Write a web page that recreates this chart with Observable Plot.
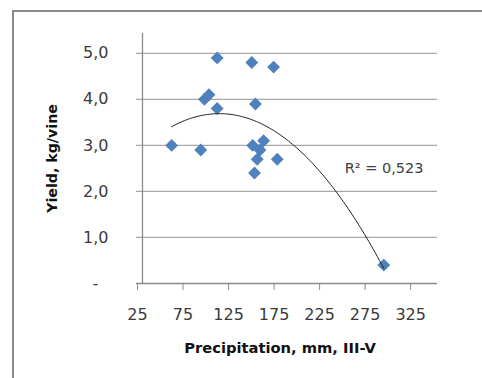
<!DOCTYPE html>
<html>
<head>
<meta charset="utf-8">
<script src="https://cdn.jsdelivr.net/npm/d3@7"></script>
<script src="https://cdn.jsdelivr.net/npm/@observablehq/plot@0.6"></script>
<style>
  html, body { margin: 0; padding: 0; width: 482px; height: 378px; overflow: hidden; background: #fff; }
  #frame { position: absolute; left: 12px; top: 10px; width: 700px; height: 700px; border: 2px solid #8a8a8a; box-sizing: border-box; }
  #chart { position: absolute; left: 0; top: 0; }
</style>
</head>
<body>
<div id="frame"></div>
<div id="chart"></div>
<script>
// Data
const precipitation = [57, 89, 93, 98, 107, 107, 145, 169, 149, 146, 158, 154, 151, 173, 148, 290];
const yieldKg       = [3.0, 2.9, 4.0, 4.1, 4.9, 3.8, 4.8, 4.7, 3.9, 3.0, 3.1, 2.9, 2.7, 2.7, 2.4, 0.4];
const xTicks = [25, 75, 125, 175, 225, 275, 325];
const yTicks = [0, 1, 2, 3, 4, 5];
const r2Label = "R² = 0,523";

const points = precipitation.map((x, i) => ({x, y: yieldKg[i]}));

// Quadratic least-squares trendline (as Excel's order-2 polynomial)
function polyfit2(xs, ys) {
  const S = k => d3.sum(xs, x => x ** k);
  const T = k => d3.sum(xs.map((x, i) => x ** k * ys[i]));
  const A = [[S(4), S(3), S(2)], [S(3), S(2), S(1)], [S(2), S(1), xs.length]];
  const B = [T(2), T(1), T(0)];
  const det = m => m[0][0]*(m[1][1]*m[2][2]-m[1][2]*m[2][1]) - m[0][1]*(m[1][0]*m[2][2]-m[1][2]*m[2][0]) + m[0][2]*(m[1][0]*m[2][1]-m[1][1]*m[2][0]);
  const D = det(A);
  return [0, 1, 2].map(c => det(A.map((row, r) => row.map((v, j) => j === c ? B[r] : v))) / D);
}
const [qa, qb, qc] = polyfit2(precipitation, yieldKg);
const [xmin, xmax] = d3.extent(precipitation);
const trend = d3.range(0, 101).map(i => {
  const x = xmin + (xmax - xmin) * i / 100;
  return {x, y: qa * x * x + qb * x + qc};
});

const fmtY = d => d === 0 ? "-\u2007" : d3.format(".1f")(d).replace(".", ",");

const chart = Plot.plot({
  width: 482,
  height: 378,
  marginLeft: 142,
  marginRight: 45,
  marginTop: 33,
  marginBottom: 95,
  style: {fontFamily: "'DejaVu Sans', sans-serif", fontSize: "16px", background: "transparent", overflow: "visible"},
  x: {domain: [25, 349]},
  y: {domain: [0, 5.43]},
  marks: [
    Plot.ruleY(yTicks.filter(d => d > 0), {stroke: "#a8a8a8", strokeWidth: 1.3, insetLeft: -6}),
    Plot.ruleY([0], {stroke: "#8a8a8a", strokeWidth: 1.3, insetLeft: -6}),
    Plot.ruleX([25], {stroke: "#8a8a8a", strokeWidth: 1.3}),
    Plot.axisY({ticks: yTicks, tickSize: 0, tickPadding: 34, tickFormat: fmtY, fill: "#3a3a3a", fontSize: 16, label: null}),
    Plot.axisX({ticks: xTicks, tickSize: 7, tickPadding: 18, stroke: "#8a8a8a", fill: "#3a3a3a", fontSize: 16, dx: -5, label: null}),
    Plot.text(["Yield, kg/vine"], {frameAnchor: "left", dx: -90, rotate: -90, textAnchor: "middle", lineAnchor: "middle", fontWeight: "bold", fontSize: 14.2, fill: "#111"}),
    Plot.text(["Precipitation, mm, III-V"], {frameAnchor: "bottom", dy: 65, dx: -10, textAnchor: "middle", lineAnchor: "middle", fontWeight: "bold", fontSize: 14.7, fill: "#111"}),
    Plot.dot(points, {x: "x", y: "y", symbol: "diamond2", r: 5.8, fill: "#4f81bd", stroke: "none"}),
    Plot.line(trend, {x: "x", y: "y", stroke: "#222", strokeWidth: 1, curve: "linear"}),
    Plot.text([r2Label], {frameAnchor: "top-right", dx: -14, dy: 135, textAnchor: "end", lineAnchor: "middle", fontSize: 14.5, fill: "#404040"})
  ]
});
document.getElementById("chart").appendChild(chart);
</script>
</body>
</html>
